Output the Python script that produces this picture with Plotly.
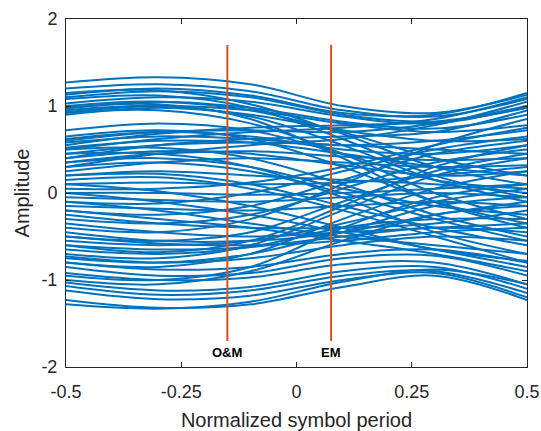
import plotly.graph_objects as go

# Sample instants across one symbol period
t_samples = [-0.5, -0.3, -0.1, 0.1, 0.3, 0.5]

# Eye traces, amplitude at each sample instant
traces_high = [
    [1.27, 1.33, 1.25, 1.00, 0.92, 1.13],
    [1.20, 1.25, 1.17, 0.95, 0.88, 1.08],
    [1.13, 1.20, 1.12, 0.92, 0.90, 1.15],
    [1.10, 1.17, 1.10, 0.90, 0.82, 0.98],
    [1.03, 1.10, 1.05, 0.88, 0.80, 1.00],
    [0.97, 1.05, 0.98, 0.82, 0.74, 0.90],
    [0.93, 1.00, 0.95, 0.80, 0.70, 0.78],
    [0.90, 0.98, 0.90, 0.72, 0.60, 0.62],
]
traces_high_to_low = [
    [1.00, 1.05, 0.95, 0.70, 0.40, 0.20],
    [0.95, 1.00, 0.88, 0.55, 0.15, -0.10],
    [1.08, 1.12, 0.98, 0.62, 0.20, -0.05],
    [0.92, 0.95, 0.80, 0.45, 0.00, -0.30],
    [0.72, 0.80, 0.72, 0.45, 0.15, 0.05],
    [1.15, 1.18, 1.02, 0.68, 0.30, 0.10],
    [0.98, 1.02, 0.85, 0.40, -0.10, -0.40],
    [0.65, 0.72, 0.62, 0.30, -0.10, -0.35],
]
traces_mid_to_high = [
    [0.60, 0.70, 0.72, 0.70, 0.80, 1.00],
    [0.50, 0.62, 0.70, 0.75, 0.85, 1.10],
    [0.40, 0.55, 0.62, 0.65, 0.70, 0.95],
    [0.30, 0.45, 0.55, 0.62, 0.78, 1.05],
    [0.55, 0.68, 0.75, 0.78, 0.82, 0.98],
]
traces_mid = [
    [0.62, 0.70, 0.65, 0.50, 0.45, 0.55],
    [0.45, 0.55, 0.58, 0.55, 0.50, 0.45],
    [0.35, 0.45, 0.48, 0.42, 0.38, 0.40],
    [0.58, 0.65, 0.62, 0.55, 0.60, 0.72],
    [0.25, 0.35, 0.40, 0.35, 0.30, 0.32],
    [0.52, 0.60, 0.58, 0.45, 0.30, 0.20],
    [0.40, 0.48, 0.45, 0.32, 0.20, 0.25],
    [0.10, 0.12, 0.10, 0.12, 0.20, 0.30],
    [0.00, 0.00, -0.02, 0.00, 0.05, 0.10],
    [-0.05, -0.08, -0.10, -0.05, 0.00, -0.05],
    [0.20, 0.25, 0.20, 0.15, 0.10, 0.00],
    [-0.15, -0.18, -0.20, -0.15, -0.10, -0.15],
]
traces_mid_to_low = [
    [0.50, 0.52, 0.40, 0.10, -0.25, -0.50],
    [0.30, 0.35, 0.25, 0.00, -0.30, -0.55],
    [0.20, 0.22, 0.10, -0.15, -0.40, -0.60],
    [0.45, 0.45, 0.30, -0.05, -0.45, -0.70],
    [0.15, 0.18, 0.05, -0.20, -0.50, -0.80],
    [0.35, 0.40, 0.30, 0.05, -0.15, -0.25],
    [-0.10, -0.20, -0.35, -0.50, -0.60, -0.70],
    [0.00, -0.10, -0.25, -0.45, -0.65, -0.85],
    [-0.20, -0.30, -0.40, -0.55, -0.70, -0.90],
    [0.10, 0.02, -0.15, -0.40, -0.65, -0.78],
]
traces_low_to_mid = [
    [-0.30, -0.35, -0.25, 0.05, 0.35, 0.50],
    [-0.50, -0.55, -0.45, -0.10, 0.25, 0.45],
    [-0.20, -0.25, -0.15, 0.15, 0.45, 0.60],
    [-0.60, -0.68, -0.55, -0.15, 0.30, 0.55],
    [-0.40, -0.45, -0.30, 0.10, 0.55, 0.85],
    [-0.10, -0.12, 0.00, 0.25, 0.50, 0.65],
    [-0.70, -0.75, -0.60, -0.20, 0.20, 0.40],
    [0.05, 0.05, 0.12, 0.30, 0.55, 0.75],
    [-0.80, -0.85, -0.70, -0.30, 0.05, 0.25],
    [-0.95, -1.00, -0.85, -0.40, -0.05, 0.10],
    [-1.00, -1.05, -0.90, -0.55, -0.25, -0.15],
    [-0.75, -0.80, -0.70, -0.45, -0.15, -0.05],
    [-0.65, -0.70, -0.62, -0.40, -0.30, -0.30],
]
traces_low_mid = [
    [-0.35, -0.45, -0.50, -0.45, -0.40, -0.35],
    [-0.50, -0.58, -0.60, -0.55, -0.45, -0.40],
    [-0.25, -0.35, -0.40, -0.40, -0.35, -0.20],
    [-0.45, -0.55, -0.55, -0.45, -0.25, -0.10],
    [-0.60, -0.65, -0.62, -0.50, -0.40, -0.45],
    [-0.55, -0.60, -0.55, -0.35, -0.10, 0.05],
]
traces_low = [
    [-0.73, -0.80, -0.75, -0.60, -0.50, -0.55],
    [-0.80, -0.88, -0.85, -0.70, -0.65, -0.80],
    [-0.85, -0.95, -0.92, -0.75, -0.72, -0.95],
    [-0.92, -1.00, -0.97, -0.82, -0.80, -1.05],
    [-1.03, -1.12, -1.08, -0.90, -0.85, -1.10],
    [-1.07, -1.17, -1.12, -0.95, -0.90, -1.15],
    [-1.12, -1.22, -1.18, -1.00, -0.92, -1.20],
    [-1.23, -1.32, -1.28, -1.08, -0.95, -1.23],
    [-1.28, -1.33, -1.25, -1.02, -0.88, -1.05],
]

# Sampling instant markers
marker_names = ["O&M", "EM"]
marker_times = [-0.15, 0.075]
marker_span = [-1.7, 1.7]
marker_label_y = -1.83

x_ticks = [-0.5, -0.25, 0, 0.25, 0.5]
x_tick_text = ["-0.5", "-0.25", "0", "0.25", "0.5"]
y_ticks = [-2, -1, 0, 1, 2]
y_tick_text = ["-2", "-1", "0", "1", "2"]

BLUE = "#0072BD"
RED = "#D95319"
INK = "#262626"
FONT = "Liberation Sans, Arial, sans-serif"

fig = go.Figure()

all_traces = (traces_high + traces_high_to_low + traces_mid_to_high + traces_mid
              + traces_mid_to_low + traces_low_to_mid + traces_low_mid + traces_low)
for ys in all_traces:
    fig.add_trace(go.Scatter(
        x=t_samples, y=ys, mode="lines",
        line=dict(color=BLUE, width=2, shape="spline", smoothing=1.0),
        hoverinfo="skip", showlegend=False,
    ))

for name, t in zip(marker_names, marker_times):
    fig.add_trace(go.Scatter(
        x=[t, t], y=marker_span, mode="lines",
        line=dict(color=RED, width=2), hoverinfo="skip", showlegend=False,
    ))
    fig.add_annotation(
        x=t, y=marker_label_y, text=f"<b>{name}</b>", showarrow=False,
        font=dict(family=FONT, size=13, color="#000000"),
    )

axis_common = dict(
    showgrid=False, zeroline=False, showline=True, linecolor=INK, linewidth=1,
    mirror="ticks", ticks="inside", ticklen=5, tickcolor=INK, automargin=False,
    tickfont=dict(family=FONT, size=18, color=INK),
)

fig.update_xaxes(
    range=[-0.5, 0.5], tickvals=x_ticks, ticktext=x_tick_text, ticklabelstandoff=8,
    title=dict(text="Normalized symbol period", standoff=14,
               font=dict(family=FONT, size=20, color=INK)),
    **axis_common,
)
fig.update_yaxes(
    range=[-2, 2], tickvals=y_ticks, ticktext=y_tick_text, ticklabelstandoff=4,
    title=dict(text="Amplitude", standoff=6,
               font=dict(family=FONT, size=20, color=INK)),
    **axis_common,
)

fig.update_layout(
    width=541, height=431,
    margin=dict(l=66, r=14, t=19, b=64),
    plot_bgcolor="white", paper_bgcolor="white",
    showlegend=False,
)

fig.write_html("out.html")
